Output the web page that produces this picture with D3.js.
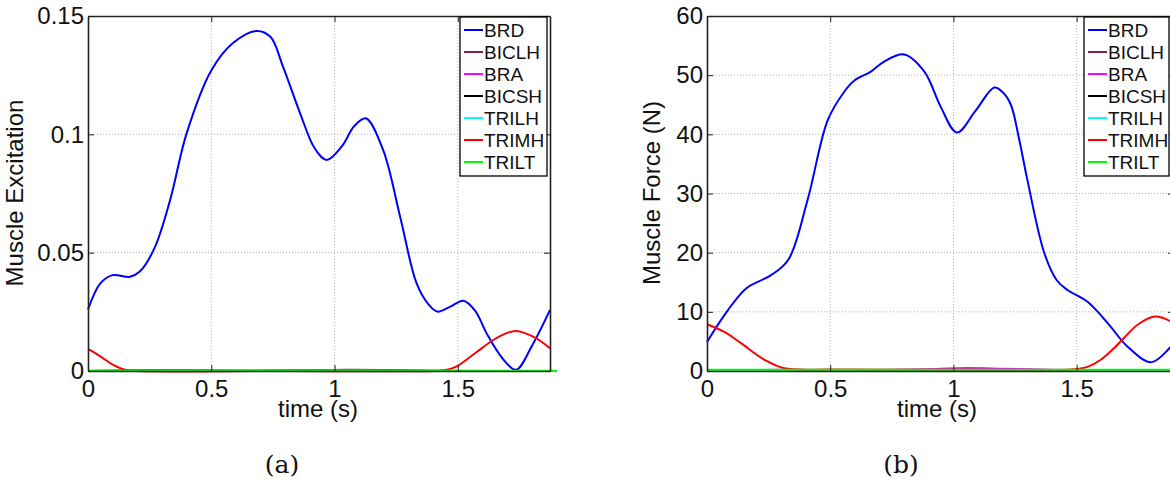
<!DOCTYPE html>
<html>
<head>
<meta charset="utf-8">
<script src="https://cdn.jsdelivr.net/npm/d3@7"></script>
<style>
  body { margin: 0; background: #fff; }
  svg { display: block; font-family: "Liberation Sans", Arial, sans-serif; }
</style>
</head>
<body>
<svg id="chart" width="1170" height="485"></svg>
<script>
// muscle names and colours, same order as the legend
const muscles = ["BRD", "BICLH", "BRA", "BICSH", "TRILH", "TRIMH", "TRILT"];
const muscleColors = ["#0000ff", "#8c1c4c", "#ff00ff", "#000000", "#00ffff", "#ff0000", "#00ff00"];

// (a) excitation
const excBrdTime = [0, 0.05, 0.1, 0.17, 0.21, 0.27, 0.333, 0.4, 0.5, 0.588, 0.684, 0.74, 0.791, 0.86, 0.92, 0.968, 1.03, 1.08, 1.127, 1.197, 1.266, 1.333, 1.38, 1.417, 1.47, 1.523, 1.57, 1.617, 1.68, 1.736, 1.8, 1.874];
const excBrd = [0.026, 0.037, 0.0405, 0.0398, 0.042, 0.052, 0.0722, 0.1004, 0.127, 0.1386, 0.1437, 0.1412, 0.1286, 0.109, 0.094, 0.0892, 0.095, 0.1035, 0.1068, 0.0934, 0.0652, 0.037, 0.0283, 0.0251, 0.0272, 0.0297, 0.0255, 0.0159, 0.0055, 0.0005, 0.0105, 0.0258];
const excTrimhTime = [0, 0.05, 0.1, 0.15, 0.2, 0.8, 1.4, 1.45, 1.496, 1.57, 1.644, 1.7, 1.736, 1.806, 1.874];
const excTrimh = [0.0093, 0.0062, 0.0027, 0.0005, 0, 0, 0, 0.0004, 0.002, 0.0075, 0.0131, 0.0161, 0.0169, 0.0145, 0.0096];
const smallTime = [0, 0.3, 0.6, 0.9, 1.05, 1.2, 1.4, 1.6, 1.9];
const excBiclh = [0, 0.0003, 0.0001, 0.0003, 0.0005, 0.0004, 0.0001, 0, 0];
const excBra = [0, 0.0004, 0.0002, 0.0003, 0.0004, 0.0003, 0.0001, 0, 0];
const excBicsh = [0, 0, 0, 0, 0, 0, 0, 0, 0];
const excTrilh = [0, 0, 0, 0, 0, 0, 0, 0, 0];
const excTrilt = [0.0001, 0.0001, 0.0001, 0.0001, 0.0001, 0.0001, 0.0001, 0.0001, 0.0001];

// (b) force
const frcBrdTime = [0, 0.08, 0.16, 0.26, 0.33, 0.408, 0.49, 0.557, 0.598, 0.665, 0.719, 0.8, 0.882, 0.949, 1.014, 1.09, 1.166, 1.2, 1.233, 1.265, 1.3, 1.369, 1.42, 1.463, 1.544, 1.626, 1.707, 1.804, 1.895];
const frcBrd = [4.9, 10, 14, 16.2, 18.8, 28.9, 42.4, 47.2, 49.1, 50.6, 52.3, 53.5, 50.6, 44.6, 40.3, 44, 47.9, 47.1, 45, 39.5, 32.3, 19.9, 15.3, 13.7, 11.7, 8.1, 4.1, 1.5, 4.8];
const frcTrimhTime = [0, 0.07, 0.138, 0.233, 0.314, 0.5, 1, 1.49, 1.544, 1.598, 1.65, 1.69, 1.75, 1.82, 1.895];
const frcTrimh = [7.9, 6.6, 4.7, 1.9, 0.45, 0.25, 0.2, 0.3, 0.7, 1.9, 3.8, 5.5, 7.9, 9.2, 8.1];
const frcBiclh = [0.1, 0.15, 0.1, 0.2, 0.35, 0.3, 0.15, 0.1, 0.1];
const frcBra = [0.1, 0.2, 0.15, 0.3, 0.5, 0.4, 0.2, 0.1, 0.1];
const frcBicsh = [0.1, 0.1, 0.1, 0.1, 0.1, 0.1, 0.1, 0.1, 0.1];
const frcTrilh = [0.1, 0.1, 0.1, 0.1, 0.1, 0.1, 0.1, 0.1, 0.1];
const frcTrilt = [0.2, 0.2, 0.2, 0.2, 0.2, 0.2, 0.2, 0.2, 0.2];

const xTicks = [0, 0.5, 1, 1.5];
const excTicks = [0, 0.05, 0.1, 0.15];
const frcTicks = [0, 10, 20, 30, 40, 50, 60];

function zip(t, v) { return t.map((d, i) => [d, v[i]]); }

const svg = d3.select("#chart");

function drawPanel(opt) {
  const x = d3.scaleLinear().domain([0, opt.xMax]).range([opt.left, opt.right]);
  const y = d3.scaleLinear().domain(opt.yDomain).range([371, 16]);
  const g = svg.append("g");

  // grid
  g.append("g").selectAll("line").data(xTicks.slice(1)).join("line")
    .attr("x1", d => x(d)).attr("x2", d => x(d))
    .attr("y1", y.range()[1]).attr("y2", y.range()[0])
    .attr("stroke", "#b4b4b4").attr("stroke-dasharray", "1,2");
  g.append("g").selectAll("line").data(opt.yTicks.slice(1, -1)).join("line")
    .attr("x1", x.range()[0]).attr("x2", x.range()[1])
    .attr("y1", d => y(d)).attr("y2", d => y(d))
    .attr("stroke", "#b4b4b4").attr("stroke-dasharray", "1,2");

  // series
  const line = d3.line().x(d => x(d[0])).y(d => y(d[1])).curve(d3.curveCatmullRom.alpha(0.5));
  opt.series.forEach((s, i) => {
    g.append("path")
      .datum(s)
      .attr("fill", "none")
      .attr("stroke", muscleColors[i])
      .attr("stroke-width", 2)
      .attr("d", line);
  });

  // axes with inward ticks, MATLAB box style
  const tl = 6;
  g.append("g").attr("transform", `translate(0,${y.range()[0]})`)
    .call(d3.axisBottom(x).tickValues(xTicks).tickSizeInner(-tl).tickSizeOuter(0).tickPadding(9).tickFormat(d3.format("")));
  g.append("g").attr("transform", `translate(0,${y.range()[1]})`)
    .call(d3.axisTop(x).tickValues(xTicks).tickSizeInner(-tl).tickSizeOuter(0).tickFormat(""));
  g.append("g").attr("transform", `translate(${x.range()[0]},0)`)
    .call(d3.axisLeft(y).tickValues(opt.yTicks).tickSizeInner(-tl).tickSizeOuter(0).tickPadding(4).tickFormat(d3.format("")));
  g.append("g").attr("transform", `translate(${x.range()[1]},0)`)
    .call(d3.axisRight(y).tickValues(opt.yTicks).tickSizeInner(-tl).tickSizeOuter(0).tickFormat(""));
  g.selectAll(".domain").attr("stroke", "#222").attr("stroke-width", 1.6);
  g.selectAll(".tick line").attr("stroke", "#222");
  g.selectAll(".tick text").attr("font-size", 24).attr("fill", "#111").attr("font-family", "Liberation Sans, Arial, sans-serif");

  // labels
  g.append("text")
    .attr("x", opt.left + 230).attr("y", 417)
    .attr("text-anchor", "middle").attr("font-size", 24).attr("fill", "#111")
    .text("time (s)");
  g.append("text")
    .attr("transform", `translate(${opt.yLabelX},193) rotate(-90)`)
    .attr("text-anchor", "middle").attr("font-size", 24).attr("fill", "#111")
    .text(opt.yLabel);
  g.append("text")
    .attr("x", opt.left + 194).attr("y", 473)
    .attr("text-anchor", "middle").attr("font-size", 25)
    .attr("font-family", "DejaVu Serif, serif").attr("fill", "#111")
    .text(opt.caption);

  // legend
  const lg = g.append("g").attr("transform", `translate(${opt.legendX},17)`);
  lg.append("rect").attr("width", opt.legendW).attr("height", 159)
    .attr("fill", "#fff").attr("stroke", "#000").attr("stroke-width", 1.3);
  muscles.forEach((m, i) => {
    const yy = 13 + i * 22;
    lg.append("line").attr("x1", 4).attr("x2", 23).attr("y1", yy).attr("y2", yy)
      .attr("stroke", muscleColors[i]).attr("stroke-width", 2);
    lg.append("text").attr("x", 24).attr("y", yy + 7)
      .attr("font-size", 19).attr("fill", "#111").text(m);
  });
}

drawPanel({
  left: 88,
  right: 550,
  xMax: 1.874,
  yDomain: [0, 0.15],
  yTicks: excTicks,
  yLabel: "Muscle Excitation",
  yLabelX: 23,
  caption: "(a)",
  legendX: 460,
  legendW: 87,
  series: [
    zip(excBrdTime, excBrd), zip(smallTime, excBiclh), zip(smallTime, excBra),
    zip(smallTime, excBicsh), zip(smallTime, excTrilh), zip(excTrimhTime, excTrimh),
    zip(smallTime, excTrilt)
  ]
});

drawPanel({
  left: 707,
  right: 1174,
  xMax: 1.895,
  yDomain: [0, 60],
  yTicks: frcTicks,
  yLabel: "Muscle Force (N)",
  yLabelX: 660,
  caption: "(b)",
  legendX: 1084,
  legendW: 85,
  series: [
    zip(frcBrdTime, frcBrd), zip(smallTime, frcBiclh), zip(smallTime, frcBra),
    zip(smallTime, frcBicsh), zip(smallTime, frcTrilh), zip(frcTrimhTime, frcTrimh),
    zip(smallTime, frcTrilt)
  ]
});
</script>
</body>
</html>
